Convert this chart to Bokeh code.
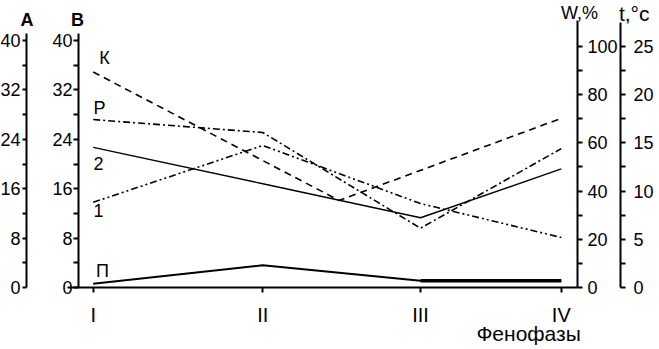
from bokeh.plotting import figure
from bokeh.models import Range1d, LinearAxis, FixedTicker, Label
from bokeh.embed import file_html
from bokeh.resources import INLINE

# ---- data ----
phases = ["I", "II", "III", "IV"]
phase_pos = [1.0, 2.0, 2.93, 3.76]          # positions of the phenophases on the x axis

k_pos = [1.0, 2.45, 3.76]                   # curve K turns between II and III
k_vals = [34.9, 14.1, 27.4]
r_vals = [27.2, 25.1, 9.6, 22.5]            # curve Р
c2_vals = [22.7, 16.8, 11.3, 19.2]          # curve 2
c1_vals = [13.8, 23.0, 13.6, 8.1]           # curve 1
p_vals = [0.6, 3.6, 1.1, 1.1]               # curve П

ab_ticks = [0, 8, 16, 24, 32, 40]
ab_minor = [4, 12, 20, 28, 36]
w_ticks = [0, 20, 40, 60, 80, 100]
w_minor = [10, 30, 50, 70, 90]
t_ticks = [0, 5, 10, 15, 20, 25]
t_minor = [2.5, 7.5, 12.5, 17.5, 22.5]

FONT = "Liberation Sans"

# the frame covers the whole canvas; axes are pinned with fixed_location
p = figure(width=659, height=349, output_backend="svg", toolbar_location=None,
           x_range=Range1d(0.4534, 4.339), y_range=Range1d(-10.04, 46.48),
           min_border=0)
p.outline_line_color = None
p.xgrid.visible = False
p.ygrid.visible = False
p.background_fill_color = "white"
p.border_fill_color = "white"
p.xaxis.visible = False
p.yaxis.visible = False

p.extra_y_ranges = {"A": Range1d(-10.04, 46.48),
                    "W": Range1d(-25.73, 119.09),
                    "t": Range1d(-6.43, 29.77)}


def style(ax, ticks, minor, tick_out=5, standoff=2, size="18px"):
    ax.ticker = FixedTicker(ticks=ticks, minor_ticks=minor)
    ax.major_tick_in = 0
    ax.minor_tick_in = 0
    ax.major_tick_out = tick_out
    ax.minor_tick_out = tick_out
    ax.axis_line_width = 2
    ax.major_tick_line_width = 2
    ax.minor_tick_line_width = 2
    ax.axis_line_color = "black"
    ax.major_tick_line_color = "black"
    ax.minor_tick_line_color = "black"
    ax.major_label_text_font = FONT
    ax.major_label_text_font_size = size
    ax.major_label_text_color = "black"
    ax.major_label_standoff = standoff


yA = LinearAxis(y_range_name="A", fixed_location=0.607, bounds=(0, 41.13))
style(yA, ab_ticks, ab_minor, tick_out=4, standoff=2)
p.add_layout(yA, "left")

yB = LinearAxis(fixed_location=0.9133, bounds=(0, 41.13))
style(yB, ab_ticks, ab_minor, tick_out=5, standoff=1)
p.add_layout(yB, "left")

yW = LinearAxis(y_range_name="W", fixed_location=3.8555, bounds=(0, 110.8))
style(yW, w_ticks, w_minor, tick_out=5, standoff=5)
p.add_layout(yW, "right")

yT = LinearAxis(y_range_name="t", fixed_location=4.1097, bounds=(0, 27.5))
style(yT, t_ticks, t_minor, tick_out=5, standoff=8)
p.add_layout(yT, "right")

xa = LinearAxis(fixed_location=0, bounds=(0.848, 3.8555))
style(xa, phase_pos, [], tick_out=5, standoff=11, size="20px")
xa.major_label_overrides = {pos: name for pos, name in zip(phase_pos, phases)}
p.add_layout(xa, "below")

# ---- curves ----
p.line(k_pos, k_vals, line_color="black", line_width=1.6, line_dash="7 5")
p.line(phase_pos, r_vals, line_color="black", line_width=1.6, line_dash="7 3 2 3")
p.line(phase_pos, c2_vals, line_color="black", line_width=1.4)
p.line(phase_pos, c1_vals, line_color="black", line_width=1.6, line_dash="7 3 2 3 2 3")
p.line(phase_pos, p_vals, line_color="black", line_width=2)
p.line(phase_pos[2:], p_vals[2:], line_color="black", line_width=3.5)


# ---- texts ----
def lab(text, x, y, size="18px", style="normal"):
    p.add_layout(Label(x=x, y=y, text=text, text_font=FONT, text_font_size=size,
                       text_font_style=style, text_color="black",
                       text_align="center", text_baseline="middle"))


lab("К", 1.067, 37.1)
lab("Р", 1.037, 29.1)
lab("2", 1.031, 20.1)
lab("1", 1.031, 12.5)
lab("П", 1.055, 2.6)

lab("A", 0.61, 43.4, style="bold")
lab("B", 0.907, 43.4, style="bold")
lab("W,%", 3.868, 44.45, size="18px")
lab("t,°c", 4.19, 44.45, size="21px")
lab("Фенофазы", 3.567, -7.45, size="21px")

open("out.html", "w").write(file_html(p, INLINE))
